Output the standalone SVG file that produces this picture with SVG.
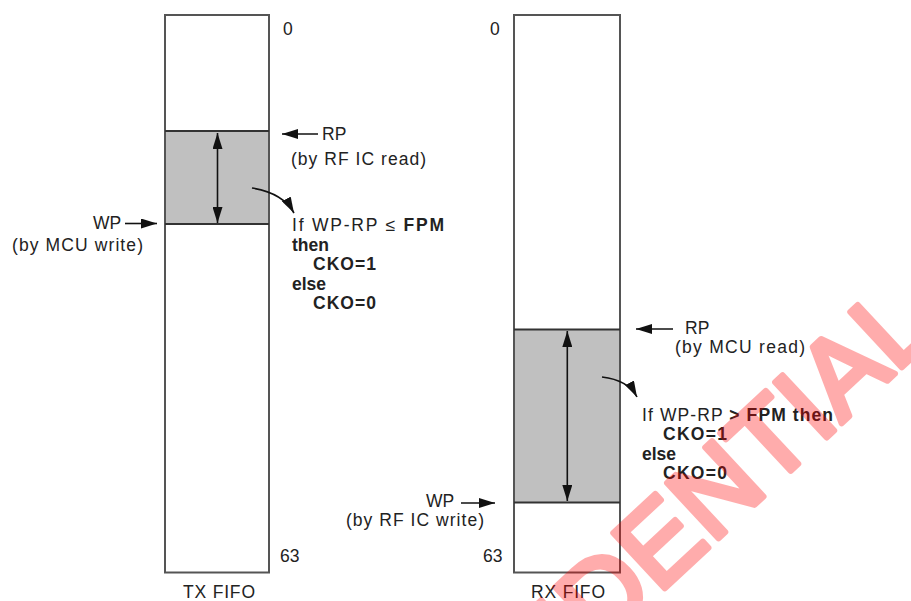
<svg xmlns="http://www.w3.org/2000/svg" width="911" height="601" viewBox="0 0 911 601">
<defs>
<style>
.frame{fill:#fff;stroke:#555;stroke-width:2}
.band{fill:#c0c0c0;stroke:none}
.div{stroke:#333;stroke-width:2;fill:none}
.t{font-family:"Liberation Sans",Arial,sans-serif;font-size:17.5px;fill:#222}
.b{font-weight:bold}
.conn{stroke:#111;stroke-width:1.6;fill:none}
.wm{font-family:"Liberation Sans",Arial,sans-serif;font-size:110px;fill:#ff0000;stroke:#ff0000;stroke-width:6;stroke-linejoin:round;stroke-linecap:round}
</style>
<marker id="ah" markerUnits="userSpaceOnUse" markerWidth="17" markerHeight="10" refX="16" refY="5" orient="auto-start-reverse">
<path d="M0,0 L16,5 L0,10 z" fill="#111"/>
</marker>
</defs>
<rect width="911" height="601" fill="#fff"/>

<g id="tx-fifo">
<rect class="frame" x="165" y="15" width="104" height="557.5"/>
<rect class="band" x="166" y="131" width="102" height="93"/>
<line class="div" x1="165" y1="131" x2="269" y2="131"/>
<line class="div" x1="165" y1="224" x2="269" y2="224"/>
<text class="t" x="283" y="35">0</text>
<text class="t" x="280" y="562">63</text>
<text class="t" x="183" y="598" textLength="72">TX FIFO</text>
</g>

<g id="tx-rp">
<text class="t" x="322" y="140">RP</text>
<text class="t" x="291" y="165" textLength="135">(by RF IC read)</text>
</g>

<g id="tx-wp">
<text class="t" x="93" y="229">WP</text>
<text class="t" x="12" y="251" textLength="131">(by MCU write)</text>
</g>

<g id="tx-cond">
<text class="t" x="292" y="231" textLength="152">If WP-RP ≤ <tspan class="b">FPM</tspan></text>
<text class="t b" x="292" y="251">then</text>
<text class="t b" x="313" y="270" textLength="63">CKO=1</text>
<text class="t b" x="292" y="290">else</text>
<text class="t b" x="313" y="309" textLength="63">CKO=0</text>
</g>

<g id="rx-fifo">
<rect class="frame" x="514" y="15" width="106" height="557.5"/>
<rect class="band" x="515" y="329.5" width="104" height="173"/>
<line class="div" x1="514" y1="329.5" x2="620" y2="329.5"/>
<line class="div" x1="514" y1="502.5" x2="620" y2="502.5"/>
<text class="t" x="490" y="35">0</text>
<text class="t" x="483" y="562">63</text>
<text class="t" x="531" y="598" textLength="74">RX FIFO</text>
</g>

<g id="rx-rp">
<text class="t" x="685" y="334">RP</text>
<text class="t" x="675" y="353" textLength="130">(by MCU read)</text>
</g>

<g id="rx-wp">
<text class="t" x="426" y="507">WP</text>
<text class="t" x="346" y="526" textLength="138">(by RF IC write)</text>
</g>

<g id="rx-cond">
<text class="t" x="642" y="421" textLength="191">If WP-RP <tspan class="b">&gt; FPM then</tspan></text>
<text class="t b" x="663" y="440" textLength="64">CKO=1</text>
<text class="t b" x="642" y="460">else</text>
<text class="t b" x="663" y="479" textLength="64">CKO=0</text>
</g>

<g id="connectors">
<line class="conn" x1="318" y1="134" x2="282" y2="134" marker-end="url(#ah)"/>
<line class="conn" x1="125" y1="223.5" x2="157" y2="223.5" marker-end="url(#ah)"/>
<line class="conn" x1="217.5" y1="133" x2="217.5" y2="223" marker-start="url(#ah)" marker-end="url(#ah)"/>
<path class="conn" d="M252,188 Q283,193 294,213" marker-end="url(#ah)"/>
<line class="conn" x1="673" y1="329" x2="636" y2="329" marker-end="url(#ah)"/>
<line class="conn" x1="461" y1="503" x2="495" y2="503" marker-end="url(#ah)"/>
<line class="conn" x1="567.3" y1="331" x2="567.3" y2="501" marker-start="url(#ah)" marker-end="url(#ah)"/>
<path class="conn" d="M602,377 Q628,380 637,397" marker-end="url(#ah)"/>
</g>

<g id="watermark" opacity="0.32">
<text class="wm" x="350" y="882" transform="rotate(-43 350 882)">CONFIDENTIAL</text>
</g>
</svg>
